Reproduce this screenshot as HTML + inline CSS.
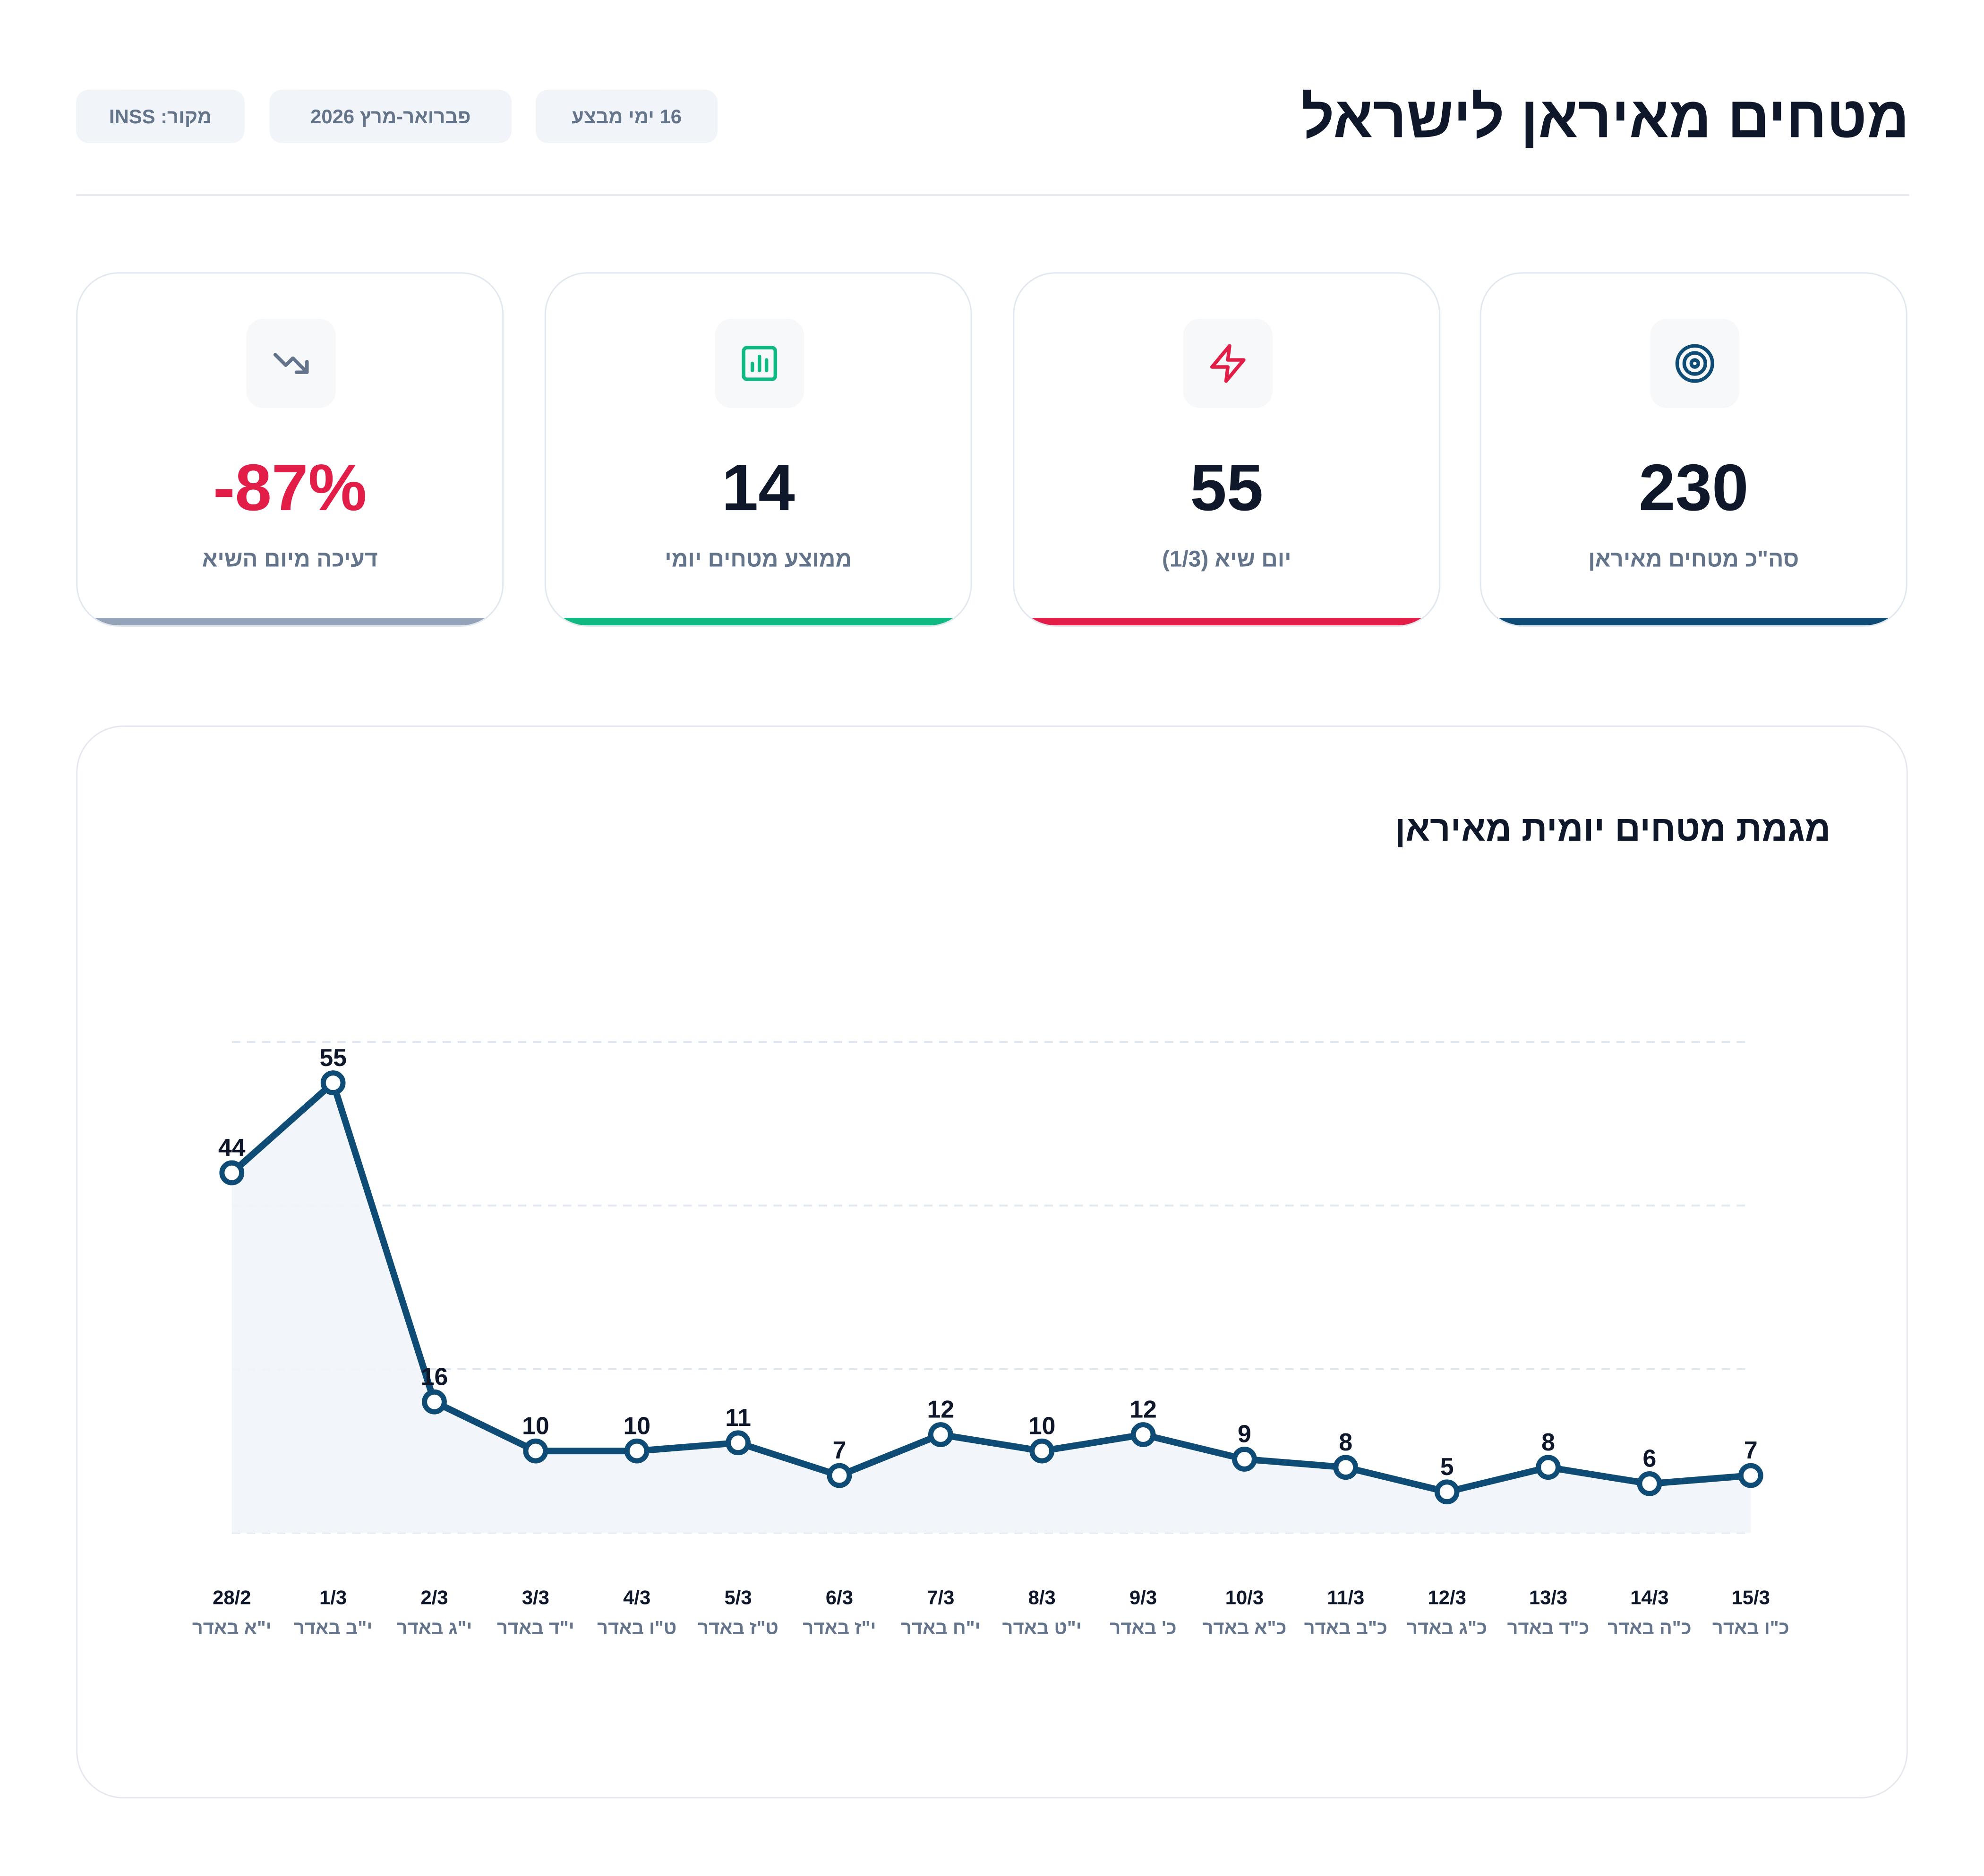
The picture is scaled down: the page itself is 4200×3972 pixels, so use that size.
<!DOCTYPE html>
<html><head><meta charset="utf-8">
<style>
*{margin:0;padding:0;box-sizing:border-box}
body{width:4200px;height:3972px;background:#fff;font-family:"Liberation Sans","DejaVu Sans",sans-serif;overflow:hidden;color:#0f172a}
#wrap{position:absolute;left:0;top:0;width:4200px;height:3972px;transform:scale(0.9955);transform-origin:0 0}
.abs{position:absolute}
.pill{position:absolute;top:191px;height:113px;background:#f1f4f8;border-radius:26px;color:#64748b;font-weight:bold;font-size:42px;display:flex;align-items:center;justify-content:center;direction:rtl}
.card{position:absolute;top:579px;width:909px;height:754px;background:#fff;border:3px solid #e2e8f0;border-radius:90px;overflow:hidden}
.card .bar{position:absolute;left:0;right:0;bottom:0;height:16px}
.icon{position:absolute;left:359px;top:96px;width:190px;height:190px;background:#f7f8fa;border-radius:36px;display:flex;align-items:center;justify-content:center}
.val{position:absolute;left:0;right:0;top:375px;text-align:center;font-weight:bold;font-size:140px;line-height:160px}
.lbl{position:absolute;left:0;right:0;top:580px;text-align:center;font-weight:bold;font-size:48px;color:#64748b;direction:rtl}
</style></head><body>
<div id="wrap">
<div class="abs" style="right:140px;top:175px;font-size:124px;font-weight:bold;direction:rtl;color:#0f172a;line-height:150px">מטחים מאיראן לישראל</div>
<div class="pill" style="left:162px;width:358px">מקור: INSS</div>
<div class="pill" style="left:573px;width:515px">פברואר-מרץ 2026</div>
<div class="pill" style="left:1139px;width:387px">16 ימי מבצע</div>
<div class="abs" style="left:162px;top:413px;width:3898px;height:4px;background:#e5e9ef"></div>

<div class="card" style="left:162px">
 <div class="icon"><svg width="90" height="90" viewBox="0 0 24 24" fill="none" stroke="#64748b" stroke-width="2" stroke-linecap="round" stroke-linejoin="round"><path d="M3 7l6 6 4-4 8 8"/><path d="M21 11v6h-6"/></svg></div>
 <div class="val" style="color:#e11d48">-87%</div>
 <div class="lbl">דעיכה מיום השיא</div>
 <div class="bar" style="background:#94a3b8"></div>
</div>
<div class="card" style="left:1158px">
 <div class="icon"><svg width="90" height="90" viewBox="0 0 24 24" fill="none" stroke="#10b981" stroke-width="2" stroke-linecap="round"><rect x="3" y="3" width="18" height="18" rx="2"/><path d="M8 16v-4M12 16V8M16 16v-6"/></svg></div>
 <div class="val">14</div>
 <div class="lbl">ממוצע מטחים יומי</div>
 <div class="bar" style="background:#10b981"></div>
</div>
<div class="card" style="left:2154px">
 <div class="icon"><svg width="90" height="90" viewBox="0 0 24 24" fill="none" stroke="#e11d48" stroke-width="2" stroke-linejoin="round"><path d="M13 2L3 14h9l-1 8 10-12h-9l1-8z"/></svg></div>
 <div class="val">55</div>
 <div class="lbl">יום שיא (1/3)</div>
 <div class="bar" style="background:#e11d48"></div>
</div>
<div class="card" style="left:3147px">
 <div class="icon"><svg width="90" height="90" viewBox="0 0 24 24" fill="none" stroke="#0f4c75" stroke-width="2"><circle cx="12" cy="12" r="10"/><circle cx="12" cy="12" r="6"/><circle cx="12" cy="12" r="2"/></svg></div>
 <div class="val">230</div>
 <div class="lbl">סה"כ מטחים מאיראן</div>
 <div class="bar" style="background:#0f4c75"></div>
</div>

<div class="abs" style="left:162px;top:1543px;width:3895px;height:2282px;border:3px solid #e5e9ef;border-radius:100px"></div>
<div class="abs" style="right:307px;top:1715px;font-size:76px;font-weight:bold;direction:rtl;line-height:96px">מגמת מטחים יומית מאיראן</div>

<svg id="chart" class="abs" style="left:0;top:0" width="4200" height="3972"></svg>
</div>
<script>
const dates=["28/2","1/3","2/3","3/3","4/3","5/3","6/3","7/3","8/3","9/3","10/3","11/3","12/3","13/3","14/3","15/3"];
const hebDates=['י"א באדר','י"ב באדר','י"ג באדר','י"ד באדר','ט"ו באדר','ט"ז באדר','י"ז באדר','י"ח באדר','י"ט באדר',"כ' באדר",'כ"א באדר','כ"ב באדר','כ"ג באדר','כ"ד באדר','כ"ה באדר','כ"ו באדר'];
const values=[44,55,16,10,10,11,7,12,10,12,9,8,5,8,6,7];
const gridTicks=[0,20,40,60];
const NS="http://www.w3.org/2000/svg";
const svg=document.getElementById('chart');
const X0=493,X1=3723,Y0=3260,Y1=2216,YMAX=60;
const x=i=>X0+(X1-X0)*i/(dates.length-1);
const y=v=>Y0-(Y0-Y1)*v/YMAX;
function mk(t,a){const e=document.createElementNS(NS,t);for(const k in a)e.setAttribute(k,a[k]);svg.appendChild(e);return e;}
gridTicks.forEach(t=>{const g=mk('line',{x1:X0,x2:X1,y1:y(t),y2:y(t),stroke:'#e2e8f0','stroke-width':4,'stroke-dasharray':'18 14'});

});
let pts=values.map((v,i)=>x(i)+','+y(v)).join(' ');
const area=mk('polygon',{points:X0+','+Y0+' '+pts+' '+X1+','+Y0,fill:'#f1f5f9',opacity:0.9});


const line=mk('polyline',{points:pts,fill:'none',stroke:'#0f4c75','stroke-width':14,'stroke-linejoin':'round'});


values.forEach((v,i)=>{
 const c=mk('circle',{cx:x(i),cy:y(v),r:21,fill:'#fff',stroke:'#0f4c75','stroke-width':11});
 
 
 const t=mk('text',{x:x(i),y:y(v)-36,'text-anchor':'middle','font-size':52,'font-weight':'bold',fill:'#0f172a'});
 t.textContent=v;
 
 
 const d=mk('text',{x:x(i),y:3412,'text-anchor':'middle','font-size':42,'font-weight':'bold',fill:'#0f172a'});
 d.textContent=dates[i];
 
 
 const h=mk('text',{x:x(i),y:3475,'text-anchor':'middle','font-size':40,'font-weight':'bold',fill:'#64748b',direction:'rtl'});
 h.textContent=hebDates[i];
 
 
});
</script>
</body></html>
